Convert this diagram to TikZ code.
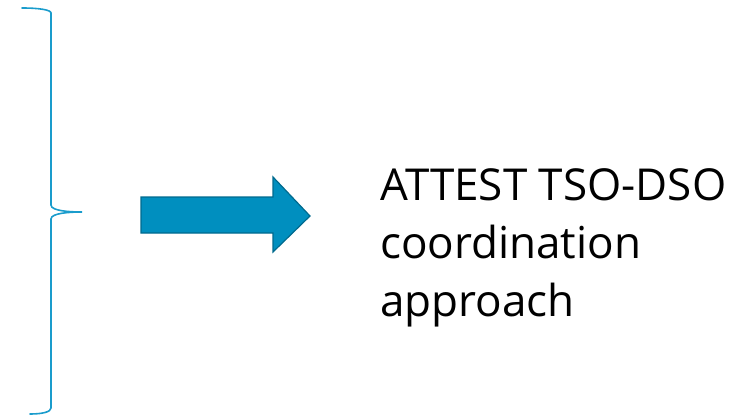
\documentclass[tikz,border=0pt]{standalone}
\usepackage{fontspec}
\setmainfont{Open Sans}
\usetikzlibrary{positioning}

\definecolor{bracecol}{HTML}{1A9CCC}
\definecolor{arrowfill}{HTML}{008FBF}
\definecolor{arrowline}{HTML}{006A8E}

\tikzset{
    brace/.style={draw=bracecol, line width=1.6pt, line cap=round},
    bigarrow/.style={fill=arrowfill, draw=arrowline, line width=1.2pt, line join=miter},
    label/.style={align=left, inner sep=0pt, font=\fontsize{44}{58}\selectfont}
}

\begin{document}
\begin{tikzpicture}[x=1pt, y=1pt]
            \useasboundingbox (0,0) rectangle (749,416);
            % curly bracket on the left
            \coordinate (tip) at (82,204);
            \draw[brace] (22,408) .. controls (40,408) and (51,406) .. (51,403)
                -- (51,211) .. controls (51,205) and (70,204) .. (tip)
                .. controls (70,204) and (51,203) .. (51,197)
                -- (51,8) .. controls (51,4) and (42,2) .. (30,2);
            % block arrow
            \draw[bigarrow] (141,219) -- (273,219) -- (273,239) -- (310,200)
                -- (273,164) -- (273,183) -- (141,183) -- cycle;
            % result text
            \node[label, anchor=north west] (result) at (380,248)
                {ATTEST TSO-DSO\\coordination\\approach};
        \end{tikzpicture}
\end{document}
